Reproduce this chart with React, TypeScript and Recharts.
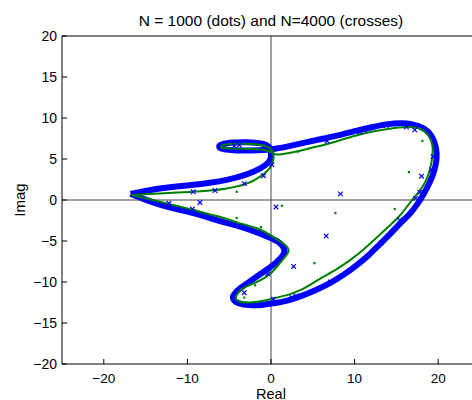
import React from "react"
import { ComposedChart, Line, Scatter, XAxis, YAxis, ReferenceLine, ReferenceArea } from "recharts"

// axis ticks
const xTicks = [-20, -10, 0, 10, 20]
const yTicks = [-20, -15, -10, -5, 0, 5, 10, 15, 20]

// thick blue boundary curve (x, y), walked once round
const blueCurve: [number, number][] = [
  [-16.8, 0.75], [-15.0, 1.1], [-13.3, 1.4], [-11.3, 1.65], [-9.3, 1.85], [-7.3, 2.1],
  [-5.3, 2.45], [-3.0, 3.1], [-1.4, 3.8], [-0.4, 4.5], [0.0, 5.3], [-0.2, 6.4],
  [-1.2, 6.9], [-2.8, 7.05], [-4.5, 7.0], [-5.8, 6.8], [-6.2, 6.5], [-5.7, 6.2],
  [-4.2, 6.05], [-2.5, 6.05], [-0.9, 6.1], [0.5, 6.25], [2.3, 6.6], [4.3, 7.05],
  [6.3, 7.5], [8.3, 7.95], [10.3, 8.45], [12.2, 8.9], [14.0, 9.25], [15.6, 9.35],
  [17.0, 9.2], [18.3, 8.7], [19.2, 7.8], [19.7, 6.5], [19.8, 5.0], [19.5, 3.5],
  [19.0, 2.2], [18.3, 0.8], [17.5, -0.5], [16.5, -1.8], [15.4, -2.9], [14.2, -4.2],
  [13.0, -5.4], [11.7, -6.7], [10.3, -7.9], [8.7, -9.1], [7.1, -10.1], [5.3, -11.0],
  [3.5, -11.75], [1.8, -12.3], [0.3, -12.6], [-1.2, -12.8], [-2.6, -12.8], [-3.8, -12.6],
  [-4.5, -12.1], [-4.4, -11.5], [-3.6, -10.7], [-2.2, -9.7], [-0.8, -8.7], [0.4, -7.8],
  [1.3, -6.9], [1.6, -6.1], [1.1, -5.3], [0.1, -4.7], [-1.3, -4.1], [-3.5, -3.3],
  [-5.3, -2.8], [-7.3, -2.2], [-9.3, -1.6], [-11.3, -1.1], [-13.3, -0.55], [-15.2, 0.1],
  [-16.8, 0.75],
]

// thin green curve just inside it
const greenCurve: [number, number][] = [
  [-16.7, 0.6], [-15.0, 0.7], [-13.3, 0.8], [-11.3, 0.9], [-9.3, 1.0], [-7.3, 1.15],
  [-5.3, 1.4], [-2.9, 2.0], [-1.3, 2.85], [-0.3, 3.7], [0.2, 4.6], [0.3, 5.6],
  [-0.2, 6.35], [-1.5, 6.75], [-3.3, 6.85], [-5.2, 6.8], [-6.0, 6.5], [-5.3, 6.3],
  [-3.3, 6.25], [-1.3, 6.15], [0.0, 5.85], [0.7, 5.55], [2.0, 5.7], [3.5, 6.0],
  [5.0, 6.4], [6.3, 6.7], [8.3, 7.3], [10.3, 7.9], [12.2, 8.35], [14.2, 8.7],
  [16.2, 8.9], [17.8, 8.7], [18.8, 7.9], [19.3, 6.7], [19.3, 5.3], [19.0, 3.7],
  [18.5, 2.3], [17.7, 1.0], [16.8, -0.1], [15.5, -1.8], [14.0, -3.3], [12.3, -4.9],
  [10.9, -6.2], [9.5, -7.3], [7.9, -8.4], [6.3, -9.35], [4.9, -10.2], [3.5, -11.0],
  [1.9, -11.6], [0.3, -12.0], [-1.2, -12.35], [-2.6, -12.5], [-3.7, -12.4], [-4.2, -12.0],
  [-4.0, -11.4], [-3.2, -10.7], [-1.3, -9.8], [0.0, -8.9], [0.9, -7.9], [1.8, -6.8],
  [2.1, -6.1], [1.6, -5.4], [0.4, -4.6], [-1.3, -3.6], [-3.7, -2.85], [-5.3, -2.3],
  [-7.3, -1.75], [-9.3, -1.2], [-11.3, -0.7], [-13.3, -0.2], [-15.0, 0.2], [-16.7, 0.6],
]

// eigenvalues, N=4000 (crosses)
const crosses4000: [number, number][] = [
  [8.3, 0.75], [18.0, 2.9], [17.8, 0.95], [17.3, 0.2], [6.7, 7.2], [10.65, 8.3],
  [11.2, 8.55], [13.8, 9.1], [16.2, 8.9], [17.2, 8.55], [19.4, 5.3], [19.2, 3.7],
  [0.1, 4.3], [-0.9, 2.95], [-3.2, 2.0], [0.6, -0.85], [6.6, -4.4], [2.7, -8.1],
  [15.4, -2.45], [13.25, -5.2], [7.1, -10.0], [2.5, -11.9], [3.0, -11.7], [0.3, -12.1],
  [-3.2, -11.3], [-0.4, -9.0], [-9.4, -1.1], [-8.5, -0.3], [-12.2, -0.4], [-9.3, 1.0],
  [-6.7, 1.15], [-3.8, 6.7], [-4.4, 6.6],
]

// eigenvalues, N=1000 (dots)
const dots1000: [number, number][] = [
  [18.1, 7.2], [16.5, 3.4], [1.3, -0.7], [7.7, -1.6], [14.8, -1.1], [3.2, 5.9],
  [-1.2, -3.3], [5.2, -7.7], [-1.9, -10.4], [-3.2, -11.9], [-4.1, 1.0], [-4.1, -2.2],
]

const toPoints = (pairs: [number, number][]) => pairs.map(([x, y]) => ({ x, y }))

const FONT = '"Liberation Sans", Arial, Helvetica, sans-serif'
const fmt = (v: number) => (v < 0 ? "\u2212" + Math.abs(v) : String(v))

const BottomTick = (props: any) => {
  const { x, y, payload } = props
  return (
    <g>
      <line x1={x} x2={x} y1={y - 9} y2={y - 14} stroke="#000" />
      <text x={x} y={y} dy="0.75em" textAnchor="middle" fontSize={13.5} fontFamily={FONT} fill="#000">
        {fmt(payload.value)}
      </text>
    </g>
  )
}

const TopTick = (props: any) => {
  const { x, y } = props
  return <line x1={x} x2={x} y1={y} y2={y + 5} stroke="#000" />
}

const LeftTick = (props: any) => {
  const { x, y, payload } = props
  return (
    <g>
      <line x1={x + 5} x2={x + 10} y1={y} y2={y} stroke="#000" />
      <text x={x} y={y} dy="0.36em" textAnchor="end" fontSize={14} fontFamily={FONT} fill="#000">
        {fmt(payload.value)}
      </text>
    </g>
  )
}

const Cross = (props: any) => {
  const { cx, cy } = props
  const s = 2.3
  return (
    <path
      d={`M${cx - s},${cy - s}L${cx + s},${cy + s}M${cx - s},${cy + s}L${cx + s},${cy - s}`}
      stroke="#0000ff"
      strokeWidth={1.2}
      fill="none"
    />
  )
}

const Dot = (props: any) => <rect x={props.cx - 1.1} y={props.cy - 1.1} width={2.2} height={2.2} fill="#008000" />

const App: React.FC = (): JSX.Element => {
  return (
    <div style={{ position: "fixed", left: 0, top: 0, width: 472, height: 400, overflow: "hidden", background: "#fff" }}>
      <ComposedChart width={490} height={400} margin={{ top: 36, right: 10, bottom: 0, left: 0 }}>
        <XAxis
          dataKey="x"
          type="number"
          domain={[-25, 25]}
          ticks={xTicks}
          allowDataOverflow
          axisLine={false}
          tickSize={0}
          tickMargin={9}
          height={36}
          tick={<BottomTick />}
        />
        <XAxis
          xAxisId="top"
          orientation="top"
          type="number"
          domain={[-25, 25]}
          ticks={[-20, -10, 10, 20]}
          axisLine={false}
          tickSize={0}
          tickMargin={0}
          height={0}
          tick={<TopTick />}
        />
        <YAxis
          dataKey="y"
          type="number"
          domain={[-20, 20]}
          ticks={yTicks}
          allowDataOverflow
          axisLine={false}
          tickSize={0}
          tickMargin={5}
          width={62}
          tick={<LeftTick />}
        />
        <ReferenceLine x={0} stroke="#444" strokeWidth={1} zIndex={-10} />
        <ReferenceLine y={0} stroke="#444" strokeWidth={1} zIndex={-10} />
        <Line
          data={toPoints(blueCurve)}
          dataKey="y"
          type="natural"
          stroke="#0000ff"
          strokeWidth={6}
          strokeLinejoin="round"
          dot={false}
          activeDot={false}
          isAnimationActive={false}
        />
        <Line
          data={toPoints(greenCurve)}
          dataKey="y"
          type="natural"
          stroke="#008000"
          strokeWidth={2}
          strokeLinejoin="round"
          dot={false}
          activeDot={false}
          isAnimationActive={false}
        />
        <Scatter data={toPoints(dots1000)} shape={<Dot />} isAnimationActive={false} />
        <Scatter data={toPoints(crosses4000)} shape={<Cross />} isAnimationActive={false} />
        <ReferenceArea x1={-25} x2={25} y1={-20} y2={20} fill="none" stroke="#000" strokeWidth={1} ifOverflow="visible" />
      </ComposedChart>
      <svg width={472} height={400} style={{ position: "absolute", left: 0, top: 0, pointerEvents: "none" }}>
        <text x={271} y={26} textAnchor="middle" fontSize={15.5} fontFamily={FONT} fill="#000">
          N = 1000 (dots) and N=4000 (crosses)
        </text>
        <text x={271} y={398.5} textAnchor="middle" fontSize={14.5} fontFamily={FONT} fill="#000">
          Real
        </text>
        <text x={25} y={200} textAnchor="middle" fontSize={15} fontFamily={FONT} fill="#000" transform="rotate(-90 25 200)">
          Imag
        </text>
      </svg>
    </div>
  )
}

export default App
